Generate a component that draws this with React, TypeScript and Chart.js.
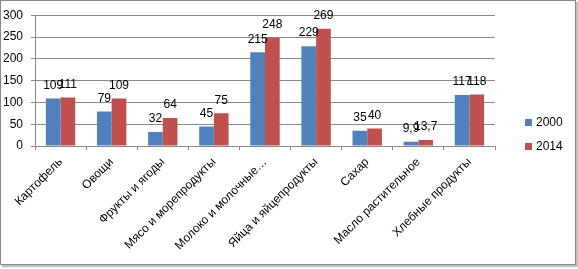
import React, { useEffect, useRef } from "react";
import { Chart, registerables } from "chart.js";

Chart.register(...registerables);

const categories = [
  "Картофель",
  "Овощи",
  "Фрукты и ягоды",
  "Мясо и морепродукты",
  "Молоко и молочные…",
  "Яйца и яйцепродукты",
  "Сахар",
  "Масло растительное",
  "Хлебные продукты",
];
const values2000 = [109, 79, 32, 45, 215, 229, 35, 9.9, 117];
const values2014 = [111, 109, 64, 75, 248, 269, 40, 13.7, 118];
const seriesNames = ["2000", "2014"];
const yMin = 0;
const yMax = 300;
const yStep = 50;

const FONT = '"Liberation Sans", Arial, sans-serif';
const GRID = "#8a8a8a";

const dataLabels = {
  id: "dataLabels",
  afterDatasetsDraw(chart: any) {
    const ctx = chart.ctx;
    ctx.save();
    ctx.font = `12px ${FONT}`;
    ctx.fillStyle = "#000";
    ctx.textAlign = "center";
    ctx.textBaseline = "middle";
    chart.data.datasets.forEach((ds: any, di: number) => {
      const meta = chart.getDatasetMeta(di);
      meta.data.forEach((bar: any, i: number) => {
        const v = ds.data[i];
        ctx.fillText(String(v).replace(".", ","), bar.x, bar.y - 13);
      });
    });
    ctx.restore();
  },
};

const sideLegend = {
  id: "sideLegend",
  afterDraw(chart: any) {
    const { ctx, chartArea } = chart;
    const x = chartArea.right + 30;
    const n = chart.data.datasets.length;
    const gap = 24;
    const startY = chart.height / 2 - ((n - 1) * gap) / 2;
    ctx.save();
    ctx.font = `12px ${FONT}`;
    ctx.textAlign = "left";
    ctx.textBaseline = "middle";
    chart.data.datasets.forEach((ds: any, i: number) => {
      const y = startY + i * gap;
      ctx.fillStyle = ds.backgroundColor;
      ctx.fillRect(x, y - 3.5, 7, 7);
      ctx.fillStyle = "#000";
      ctx.fillText(ds.label, x + 11, y);
    });
    ctx.restore();
  },
};

export default function App() {
  const ref = useRef<HTMLCanvasElement | null>(null);
  useEffect(() => {
    if (!ref.current) return;
    const chart = new Chart(ref.current, {
      type: "bar",
      data: {
        labels: categories,
        datasets: [
          {
            label: seriesNames[0],
            data: values2000,
            backgroundColor: "#4F81BD",
            borderWidth: 0,
            categoryPercentage: 0.575,
            barPercentage: 1,
          },
          {
            label: seriesNames[1],
            data: values2014,
            backgroundColor: "#C0504D",
            borderWidth: 0,
            categoryPercentage: 0.575,
            barPercentage: 1,
          },
        ],
      },
      options: {
        responsive: false,
        animation: false,
        events: [],
        layout: { padding: { top: 13, right: 83, left: 0, bottom: 0 } },
        plugins: {
          legend: { display: false },
          tooltip: { enabled: false },
          title: { display: false },
        },
        scales: {
          x: {
            grid: {
              drawOnChartArea: false,
              drawTicks: true,
              tickLength: 4,
              color: GRID,
              offset: true,
            },
            border: { display: true, color: GRID },
            ticks: {
              autoSkip: false,
              maxRotation: 45,
              minRotation: 45,
              padding: 5,
              color: "#000",
              font: { size: 12, family: FONT },
            },
            afterFit: (s: any) => {
              s.height = 123;
            },
          },
          y: {
            min: yMin,
            max: yMax,
            ticks: {
              stepSize: yStep,
              padding: 8,
              color: "#000",
              font: { size: 12, family: FONT },
            },
            grid: { color: GRID, tickLength: 4 },
            border: { display: true, color: GRID },
            afterFit: (s: any) => {
              s.width = 35;
            },
          },
        },
      },
      plugins: [dataLabels, sideLegend],
    });
    return () => chart.destroy();
  }, []);

  return (
    <div style={{ position: "fixed", left: 0, top: 0, width: 578, height: 269, background: "#fff" }}>
      <div
        style={{
          position: "absolute",
          left: 0,
          top: 0,
          width: 576,
          height: 265,
          boxSizing: "border-box",
          border: "1px solid #8a8a8a",
          boxShadow: "2px 2px 1px rgba(0,0,0,0.25)",
        }}
      />
      <canvas
        ref={ref}
        width={578}
        height={269}
        style={{ position: "absolute", left: 0, top: 0, width: 578, height: 269 }}
      />
    </div>
  );
}
